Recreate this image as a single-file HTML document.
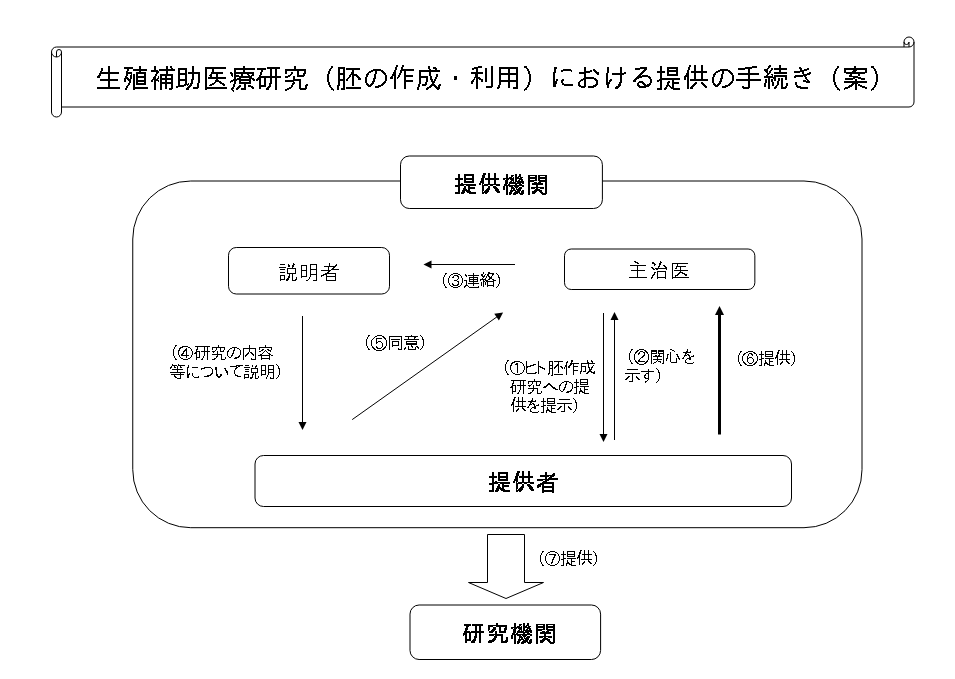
<!DOCTYPE html>
<html lang="ja">
<head>
<meta charset="utf-8">
<title>生殖補助医療研究（胚の作成・利用）における提供の手続き（案）</title>
<style>
html,body{margin:0;padding:0;background:#fff}
body{position:relative;width:955px;height:679px;overflow:hidden;font-family:"Liberation Sans",sans-serif}
svg{position:absolute;left:0;top:0;display:block}
.ln{fill:#fff;stroke:#000;stroke-width:1}
.bn{fill:none;stroke:#000;stroke-width:1}
.gl{fill:#000;shape-rendering:crispEdges}
.tx{position:absolute;margin:0;white-space:nowrap;line-height:1;color:transparent;font-family:"Liberation Sans",sans-serif;overflow:hidden}
.tx.b{font-weight:bold}
</style>
</head>
<body>
<svg width="955" height="679" viewBox="0 0 955 679">
<defs>
<path id="gt27_751f" d="M13 -22h2v6h-2zM6 -20h2v3h-2zM5 -17h2v1h-2zM5 -16h19v1h-19zM4 -15h20v1h-20zM4 -14h2v1h-2zM13 -14h2v5h-2zM3 -13h3v1h-3zM2 -12h3v2h-3zM5 -9h18v2h-18zM13 -7h2v6h-2zM2 -1h23v2h-23z"/>
<path id="gt27_6b96" d="M17 -22h2v3h-2zM2 -21h9v2h-9zM5 -19h2v2h-2zM11 -19h14v2h-14zM4 -17h2v1h-2zM17 -17h2v1h-2zM4 -16h6v2h-6zM14 -16h10v2h-10zM4 -14h2v2h-2zM9 -14h1v1h-1zM11 -14h2v13h-2zM14 -14h2v2h-2zM22 -14h2v2h-2zM8 -13h2v4h-2zM3 -12h2v1h-2zM14 -12h10v2h-10zM3 -11h3v1h-3zM2 -10h5v1h-5zM14 -10h2v2h-2zM22 -10h2v2h-2zM2 -9h2v3h-2zM5 -9h4v1h-4zM6 -8h3v1h-3zM14 -8h10v2h-10zM7 -7h2v2h-2zM14 -6h2v1h-2zM22 -6h2v1h-2zM6 -5h2v2h-2zM14 -5h10v2h-10zM5 -3h2v1h-2zM4 -2h2v2h-2zM11 -1h15v2h-15zM3 0h2v2h-2zM11 1h2v1h-2z"/>
<path id="gt27_88dc" d="M5 -22h2v4h-2zM17 -22h2v3h-2zM21 -22h2v2h-2zM22 -20h2v1h-2zM10 -19h16v2h-16zM2 -18h7v1h-7zM2 -17h8v1h-8zM17 -17h2v3h-2zM7 -16h3v1h-3zM7 -15h2v1h-2zM6 -14h2v2h-2zM11 -14h13v2h-13zM5 -12h2v1h-2zM9 -12h1v2h-1zM11 -12h2v2h-2zM16 -12h2v2h-2zM22 -12h2v2h-2zM4 -11h3v2h-3zM8 -10h2v1h-2zM11 -10h13v2h-13zM3 -9h6v1h-6zM2 -8h2v2h-2zM5 -8h5v1h-5zM11 -8h2v2h-2zM16 -8h2v2h-2zM22 -8h2v2h-2zM5 -7h2v9h-2zM9 -7h1v1h-1zM11 -6h13v2h-13zM11 -4h2v6h-2zM16 -4h2v5h-2zM22 -4h2v4h-2zM20 0h4v1h-4zM20 1h3v1h-3z"/>
<path id="gt27_52a9" d="M17 -22h2v6h-2zM3 -20h9v2h-9zM3 -18h2v3h-2zM10 -18h2v3h-2zM13 -16h12v2h-12zM3 -15h9v2h-9zM17 -14h2v5h-2zM23 -14h2v9h-2zM3 -13h2v4h-2zM10 -13h2v4h-2zM3 -9h9v2h-9zM16 -9h3v1h-3zM16 -8h2v3h-2zM3 -7h2v4h-2zM10 -7h2v3h-2zM13 -5h1v1h-1zM15 -5h3v1h-3zM22 -5h2v4h-2zM9 -4h5v1h-5zM15 -4h2v1h-2zM3 -3h8v1h-8zM12 -3h1v1h-1zM14 -3h3v1h-3zM1 -2h8v1h-8zM13 -2h3v1h-3zM1 -1h2v1h-2zM12 -1h3v1h-3zM18 -1h6v1h-6zM11 0h3v2h-3zM18 0h5v1h-5z"/>
<path id="gt27_533b" d="M3 -21h21v2h-21zM3 -19h2v18h-2zM10 -19h2v3h-2zM9 -16h12v2h-12zM8 -14h2v1h-2zM14 -14h2v3h-2zM7 -13h3v1h-3zM8 -12h2v1h-2zM6 -11h18v2h-18zM14 -9h2v1h-2zM13 -8h4v1h-4zM13 -7h6v1h-6zM12 -6h2v1h-2zM17 -6h3v1h-3zM10 -5h3v1h-3zM18 -5h4v1h-4zM8 -4h4v1h-4zM20 -4h3v1h-3zM7 -3h3v1h-3zM21 -3h2v1h-2zM3 -1h22v2h-22zM3 1h2v1h-2z"/>
<path id="gt27_7642" d="M14 -22h2v2h-2zM5 -20h21v2h-21zM5 -18h2v2h-2zM14 -18h2v2h-2zM1 -16h2v1h-2zM5 -16h20v2h-20zM1 -15h3v1h-3zM2 -14h2v2h-2zM5 -14h2v1h-2zM12 -14h2v2h-2zM18 -14h2v1h-2zM23 -14h2v1h-2zM5 -13h5v1h-5zM19 -13h2v1h-2zM22 -13h3v1h-3zM3 -12h1v1h-1zM5 -12h18v1h-18zM5 -11h2v2h-2zM10 -11h13v1h-13zM8 -10h4v1h-4zM20 -10h5v1h-5zM4 -9h18v1h-18zM23 -9h3v1h-3zM2 -8h6v1h-6zM10 -8h12v1h-12zM24 -8h2v1h-2zM1 -7h3v1h-3zM5 -7h2v3h-2zM10 -7h2v1h-2zM20 -7h2v1h-2zM1 -6h1v1h-1zM10 -6h12v2h-12zM4 -4h2v3h-2zM15 -4h2v4h-2zM10 -3h2v1h-2zM19 -3h3v1h-3zM9 -2h3v1h-3zM19 -2h5v1h-5zM3 -1h2v1h-2zM8 -1h3v1h-3zM22 -1h3v1h-3zM2 0h3v1h-3zM7 0h3v1h-3zM12 0h5v2h-5zM23 0h2v1h-2zM2 1h2v1h-2zM7 1h2v1h-2zM3 2h2v1h-2zM4 3h1v1h-1z"/>
<path id="gt27_7814" d="M12 -21h13v2h-13zM2 -20h9v2h-9zM15 -19h2v7h-2zM20 -19h2v7h-2zM6 -18h2v2h-2zM5 -16h2v3h-2zM4 -13h2v1h-2zM4 -12h22v1h-22zM3 -11h23v1h-23zM2 -10h4v1h-4zM9 -10h2v7h-2zM15 -10h2v5h-2zM20 -10h2v12h-2zM1 -9h5v1h-5zM1 -8h2v1h-2zM4 -8h2v5h-2zM14 -5h3v1h-3zM14 -4h2v2h-2zM4 -3h7v2h-7zM13 -2h3v1h-3zM4 -1h2v2h-2zM12 -1h3v1h-3zM11 0h3v2h-3z"/>
<path id="gt27_7a76" d="M12 -22h2v3h-2zM3 -19h21v2h-21zM3 -17h2v3h-2zM15 -17h2v4h-2zM22 -17h2v2h-2zM9 -16h2v2h-2zM21 -15h3v1h-3zM8 -14h2v1h-2zM21 -14h2v1h-2zM6 -13h3v1h-3zM15 -13h8v1h-8zM3 -12h5v1h-5zM11 -12h2v3h-2zM15 -12h7v1h-7zM3 -11h3v1h-3zM11 -9h8v1h-8zM3 -8h16v1h-16zM3 -7h9v1h-9zM17 -7h2v7h-2zM11 -6h2v1h-2zM10 -5h3v1h-3zM10 -4h2v1h-2zM24 -4h2v1h-2zM9 -3h2v2h-2zM23 -3h3v1h-3zM23 -2h2v2h-2zM7 -1h3v1h-3zM5 0h4v1h-4zM17 0h8v1h-8zM3 1h4v1h-4zM18 1h6v1h-6zM3 2h2v1h-2z"/>
<path id="gt27_ff08" d="M22 -22h2v2h-2zM21 -20h2v1h-2zM20 -19h2v2h-2zM19 -17h2v3h-2zM18 -14h2v8h-2zM19 -6h2v3h-2zM20 -3h2v2h-2zM21 -1h2v1h-2zM22 0h2v1h-2zM22 1h3v1h-3zM24 2h1v1h-1z"/>
<path id="gt27_80da" d="M3 -21h7v2h-7zM11 -20h14v2h-14zM3 -19h2v4h-2zM8 -19h2v4h-2zM17 -18h2v2h-2zM16 -16h3v2h-3zM3 -15h7v2h-7zM15 -14h7v1h-7zM3 -13h2v4h-2zM8 -13h2v4h-2zM14 -13h2v2h-2zM17 -13h6v1h-6zM17 -12h2v10h-2zM21 -12h3v1h-3zM13 -11h2v1h-2zM22 -11h3v1h-3zM12 -10h2v1h-2zM23 -10h3v2h-3zM3 -9h7v2h-7zM11 -9h2v2h-2zM3 -7h2v4h-2zM8 -7h2v7h-2zM2 -3h3v1h-3zM2 -2h2v4h-2zM11 -1h15v2h-15zM6 0h4v2h-4z"/>
<path id="gt27_306e" d="M11 -19h8v1h-8zM9 -18h12v1h-12zM7 -17h4v1h-4zM13 -17h2v3h-2zM19 -17h3v1h-3zM6 -16h3v1h-3zM20 -16h3v1h-3zM5 -15h2v1h-2zM21 -15h3v1h-3zM4 -14h3v1h-3zM12 -14h2v4h-2zM22 -14h2v1h-2zM4 -13h2v2h-2zM23 -13h2v6h-2zM3 -11h2v6h-2zM11 -10h3v1h-3zM11 -9h2v2h-2zM10 -7h3v1h-3zM22 -7h2v1h-2zM10 -6h2v1h-2zM21 -6h3v1h-3zM4 -5h2v1h-2zM9 -5h3v1h-3zM20 -5h3v1h-3zM4 -4h3v1h-3zM8 -4h3v1h-3zM19 -4h3v1h-3zM5 -3h5v1h-5zM16 -3h5v1h-5zM6 -2h3v1h-3zM13 -2h6v1h-6zM13 -1h4v1h-4z"/>
<path id="gt27_4f5c" d="M7 -23h2v2h-2zM13 -23h2v2h-2zM6 -21h2v3h-2zM12 -21h2v2h-2zM12 -19h13v1h-13zM5 -18h2v2h-2zM11 -18h14v1h-14zM11 -17h2v2h-2zM15 -17h2v4h-2zM4 -16h3v2h-3zM10 -15h2v2h-2zM3 -14h4v2h-4zM9 -13h2v2h-2zM15 -13h9v2h-9zM2 -12h2v1h-2zM5 -12h2v13h-2zM1 -11h3v2h-3zM8 -11h2v1h-2zM15 -11h2v3h-2zM8 -10h1v1h-1zM15 -8h9v2h-9zM15 -6h2v7h-2z"/>
<path id="gt27_6210" d="M13 -22h2v3h-2zM18 -21h3v1h-3zM18 -20h4v1h-4zM14 -19h2v1h-2zM20 -19h2v1h-2zM4 -18h21v2h-21zM4 -16h2v4h-2zM14 -16h2v4h-2zM21 -14h2v3h-2zM4 -12h9v2h-9zM15 -12h2v3h-2zM20 -11h2v2h-2zM4 -10h2v6h-2zM11 -10h2v4h-2zM15 -9h3v1h-3zM19 -9h2v2h-2zM16 -8h2v1h-2zM16 -7h4v1h-4zM10 -6h2v2h-2zM17 -6h3v1h-3zM17 -5h2v1h-2zM3 -4h2v3h-2zM7 -4h5v1h-5zM16 -4h4v1h-4zM24 -4h2v1h-2zM7 -3h4v1h-4zM15 -3h6v1h-6zM23 -3h3v1h-3zM14 -2h3v1h-3zM19 -2h3v1h-3zM23 -2h2v1h-2zM2 -1h2v3h-2zM12 -1h4v1h-4zM20 -1h5v1h-5zM11 0h3v1h-3zM21 0h4v1h-4zM11 1h2v1h-2zM22 1h2v1h-2z"/>
<path id="gt27_30fb" d="M12 -12h3v4h-3z"/>
<path id="gt27_5229" d="M9 -22h4v1h-4zM22 -22h2v20h-2zM5 -21h8v1h-8zM3 -20h6v1h-6zM16 -20h2v14h-2zM3 -19h2v1h-2zM7 -19h2v3h-2zM2 -16h12v2h-12zM6 -14h3v3h-3zM5 -11h6v1h-6zM5 -10h1v1h-1zM7 -10h5v1h-5zM4 -9h2v1h-2zM7 -9h2v10h-2zM10 -9h4v1h-4zM3 -8h2v1h-2zM12 -8h2v2h-2zM2 -7h3v1h-3zM2 -6h2v2h-2zM17 -2h7v1h-7zM17 -1h6v1h-6z"/>
<path id="gt27_7528" d="M4 -21h19v2h-19zM4 -19h2v4h-2zM13 -19h2v4h-2zM21 -19h2v4h-2zM4 -15h19v2h-19zM4 -13h2v5h-2zM13 -13h2v5h-2zM21 -13h2v5h-2zM4 -8h19v2h-19zM4 -6h2v3h-2zM13 -6h2v6h-2zM21 -6h2v5h-2zM3 -3h2v2h-2zM2 -1h3v1h-3zM18 -1h5v2h-5zM2 0h2v1h-2z"/>
<path id="gt27_ff09" d="M2 -22h3v2h-3zM4 -20h2v1h-2zM5 -19h2v2h-2zM6 -17h2v3h-2zM7 -14h2v8h-2zM6 -6h2v3h-2zM5 -3h2v2h-2zM4 -1h2v1h-2zM3 0h2v1h-2zM2 1h3v1h-3zM2 2h1v1h-1z"/>
<path id="gt27_306b" d="M5 -21h3v2h-3zM5 -19h2v3h-2zM14 -19h8v1h-8zM12 -18h11v1h-11zM12 -17h2v1h-2zM22 -17h1v1h-1zM4 -16h3v1h-3zM4 -15h2v8h-2zM7 -9h2v2h-2zM13 -9h2v1h-2zM12 -8h3v1h-3zM4 -7h4v3h-4zM12 -7h2v2h-2zM13 -5h2v1h-2zM4 -4h3v3h-3zM13 -4h11v1h-11zM15 -3h9v1h-9z"/>
<path id="gt27_304a" d="M9 -21h2v4h-2zM18 -19h2v1h-2zM15 -18h2v1h-2zM18 -18h3v1h-3zM9 -17h8v1h-8zM19 -17h3v1h-3zM4 -16h11v1h-11zM20 -16h4v1h-4zM4 -15h7v1h-7zM21 -15h3v1h-3zM9 -14h2v3h-2zM22 -14h2v1h-2zM9 -11h10v1h-10zM8 -10h13v1h-13zM6 -9h5v1h-5zM19 -9h3v1h-3zM5 -8h3v1h-3zM9 -8h2v6h-2zM20 -8h3v1h-3zM4 -7h2v1h-2zM21 -7h2v3h-2zM3 -6h2v3h-2zM20 -4h3v1h-3zM3 -3h3v1h-3zM18 -3h4v1h-4zM4 -2h7v1h-7zM13 -2h8v1h-8zM6 -1h4v1h-4zM13 -1h6v1h-6z"/>
<path id="gt27_3051" d="M5 -21h2v6h-2zM18 -21h2v6h-2zM22 -16h2v1h-2zM4 -15h2v9h-2zM10 -15h14v1h-14zM10 -14h12v1h-12zM18 -13h2v7h-2zM8 -9h2v1h-2zM7 -8h3v1h-3zM7 -7h2v1h-2zM4 -6h4v2h-4zM17 -6h3v1h-3zM17 -5h2v1h-2zM4 -4h3v1h-3zM16 -4h3v2h-3zM5 -3h2v3h-2zM14 -2h4v1h-4zM13 -1h4v1h-4zM13 0h3v1h-3z"/>
<path id="gt27_308b" d="M11 -21h7v1h-7zM6 -20h12v1h-12zM6 -19h5v1h-5zM15 -19h3v1h-3zM14 -18h3v1h-3zM13 -17h3v1h-3zM12 -16h3v1h-3zM11 -15h3v1h-3zM10 -14h3v1h-3zM9 -13h3v1h-3zM13 -13h6v1h-6zM8 -12h13v1h-13zM7 -11h6v1h-6zM19 -11h3v1h-3zM6 -10h4v1h-4zM20 -10h2v1h-2zM5 -9h3v1h-3zM21 -9h2v4h-2zM4 -8h3v2h-3zM10 -7h4v1h-4zM9 -6h6v1h-6zM8 -5h2v2h-2zM13 -5h3v1h-3zM20 -5h2v1h-2zM14 -4h3v1h-3zM18 -4h4v1h-4zM8 -3h3v1h-3zM15 -3h6v1h-6zM9 -2h11v1h-11zM10 -1h7v1h-7z"/>
<path id="gt27_63d0" d="M5 -22h2v5h-2zM12 -21h11v2h-11zM12 -19h2v1h-2zM21 -19h2v1h-2zM12 -18h11v2h-11zM2 -17h8v2h-8zM12 -16h2v2h-2zM21 -16h2v2h-2zM5 -15h2v5h-2zM12 -14h11v2h-11zM5 -10h20v1h-20zM4 -9h21v1h-21zM2 -8h5v1h-5zM17 -8h2v2h-2zM2 -7h2v1h-2zM5 -7h2v7h-2zM13 -7h2v1h-2zM12 -6h3v1h-3zM17 -6h7v2h-7zM12 -5h2v2h-2zM17 -4h2v3h-2zM11 -3h4v1h-4zM11 -2h2v1h-2zM14 -2h2v1h-2zM10 -1h2v1h-2zM15 -1h4v1h-4zM2 0h5v2h-5zM9 0h3v1h-3zM16 0h9v1h-9zM9 1h2v1h-2zM18 1h7v1h-7z"/>
<path id="gt27_4f9b" d="M7 -23h2v2h-2zM12 -23h2v6h-2zM19 -23h2v6h-2zM6 -21h2v3h-2zM5 -18h2v3h-2zM9 -17h16v2h-16zM4 -15h3v2h-3zM12 -15h2v6h-2zM19 -15h2v6h-2zM3 -13h4v1h-4zM2 -12h5v1h-5zM2 -11h2v3h-2zM5 -11h2v12h-2zM8 -9h18v2h-18zM13 -6h2v1h-2zM19 -6h2v1h-2zM12 -5h3v1h-3zM19 -5h3v1h-3zM11 -4h3v1h-3zM20 -4h3v1h-3zM10 -3h3v1h-3zM21 -3h3v1h-3zM9 -2h3v1h-3zM22 -2h3v1h-3zM8 -1h3v2h-3zM23 -1h2v1h-2z"/>
<path id="gt27_624b" d="M17 -22h5v1h-5zM10 -21h12v1h-12zM3 -20h14v1h-14zM3 -19h7v1h-7zM13 -19h2v4h-2zM3 -15h21v2h-21zM13 -13h2v4h-2zM1 -9h25v2h-25zM13 -7h2v6h-2zM7 -2h2v1h-2zM7 -1h8v1h-8zM8 0h6v1h-6z"/>
<path id="gt27_7d9a" d="M7 -23h2v1h-2zM17 -23h2v3h-2zM6 -22h3v1h-3zM6 -21h2v1h-2zM5 -20h2v1h-2zM9 -20h2v2h-2zM12 -20h13v2h-13zM2 -19h4v2h-4zM8 -18h2v1h-2zM17 -18h2v2h-2zM3 -17h3v1h-3zM7 -17h2v2h-2zM4 -16h2v1h-2zM12 -16h13v2h-13zM5 -15h3v1h-3zM5 -14h2v1h-2zM9 -14h2v1h-2zM4 -13h2v1h-2zM10 -13h1v1h-1zM12 -13h13v2h-13zM2 -12h9v1h-9zM2 -11h12v1h-12zM23 -11h2v3h-2zM6 -10h2v11h-2zM11 -10h3v1h-3zM16 -10h2v3h-2zM19 -10h2v9h-2zM3 -9h2v4h-2zM9 -9h2v3h-2zM12 -9h2v2h-2zM15 -7h2v4h-2zM10 -6h2v4h-2zM2 -5h2v4h-2zM24 -5h2v3h-2zM14 -3h2v1h-2zM13 -2h2v1h-2zM23 -2h2v1h-2zM12 -1h3v1h-3zM19 -1h6v1h-6zM12 0h2v1h-2zM19 0h5v1h-5z"/>
<path id="gt27_304d" d="M10 -21h2v1h-2zM10 -20h3v1h-3zM18 -20h2v1h-2zM11 -19h2v1h-2zM15 -19h5v1h-5zM11 -18h7v1h-7zM5 -17h10v1h-10zM5 -16h6v1h-6zM13 -16h2v2h-2zM20 -16h2v1h-2zM18 -15h4v1h-4zM14 -14h7v1h-7zM6 -13h12v1h-12zM5 -12h9v1h-9zM15 -12h2v1h-2zM5 -11h2v1h-2zM16 -11h2v2h-2zM17 -9h2v1h-2zM14 -8h3v1h-3zM18 -8h2v1h-2zM14 -7h7v1h-7zM6 -6h2v3h-2zM17 -6h4v1h-4zM7 -3h2v1h-2zM7 -2h5v1h-5zM8 -1h11v1h-11zM11 0h8v1h-8z"/>
<path id="gt27_6848" d="M12 -22h2v2h-2zM2 -20h23v2h-23zM2 -18h2v2h-2zM11 -18h4v1h-4zM23 -18h2v2h-2zM10 -17h4v1h-4zM2 -16h23v1h-23zM4 -15h19v1h-19zM8 -14h2v1h-2zM16 -14h2v2h-2zM7 -13h3v1h-3zM7 -12h9v1h-9zM11 -11h8v1h-8zM3 -10h10v1h-10zM16 -10h7v1h-7zM3 -9h8v1h-8zM13 -9h2v2h-2zM19 -9h4v1h-4zM2 -7h23v2h-23zM10 -5h6v1h-6zM9 -4h3v1h-3zM13 -4h2v6h-2zM16 -4h2v1h-2zM7 -3h4v1h-4zM16 -3h4v1h-4zM6 -2h4v1h-4zM18 -2h5v1h-5zM3 -1h5v1h-5zM20 -1h5v1h-5zM2 0h4v1h-4zM23 0h2v1h-2zM2 1h1v1h-1z"/>
<path id="pb22_63d0" d="M4 -18h2v4h-2zM10 -18h10v2h-10zM10 -16h2v2h-2zM18 -16h2v2h-2zM1 -14h8v2h-8zM10 -14h10v2h-10zM4 -12h2v4h-2zM10 -12h2v1h-2zM18 -12h2v1h-2zM10 -11h10v2h-10zM7 -9h2v1h-2zM4 -8h18v1h-18zM1 -7h9v1h-9zM12 -7h10v1h-10zM1 -6h5v1h-5zM10 -6h2v2h-2zM14 -6h2v1h-2zM4 -5h2v5h-2zM14 -5h7v2h-7zM9 -4h3v1h-3zM9 -3h4v1h-4zM14 -3h2v1h-2zM8 -2h8v1h-8zM8 -1h3v1h-3zM12 -1h5v1h-5zM1 0h5v2h-5zM7 0h4v1h-4zM13 0h9v1h-9zM7 1h3v1h-3zM15 1h7v1h-7z"/>
<path id="pb22_4f9b" d="M5 -19h3v2h-3zM10 -19h2v5h-2zM16 -19h2v5h-2zM4 -17h3v3h-3zM3 -14h3v3h-3zM7 -14h14v2h-14zM10 -12h2v4h-2zM16 -12h2v4h-2zM2 -11h4v2h-4zM1 -9h2v2h-2zM4 -9h2v1h-2zM4 -8h1v1h-1zM6 -8h16v1h-16zM4 -7h6v1h-6zM12 -7h3v1h-3zM18 -7h4v1h-4zM4 -6h2v5h-2zM10 -6h2v2h-2zM15 -6h3v1h-3zM15 -5h4v1h-4zM9 -4h3v1h-3zM16 -4h4v1h-4zM8 -3h4v1h-4zM17 -3h4v2h-4zM7 -2h4v1h-4zM4 -1h1v1h-1zM6 -1h5v1h-5zM18 -1h4v1h-4zM4 0h6v1h-6zM19 0h3v1h-3zM4 1h2v1h-2zM7 1h2v1h-2z"/>
<path id="pb22_6a5f" d="M4 -18h2v4h-2zM13 -18h2v3h-2zM17 -18h2v2h-2zM9 -17h3v1h-3zM9 -16h2v1h-2zM16 -16h3v1h-3zM7 -15h3v1h-3zM11 -15h1v1h-1zM13 -15h4v1h-4zM18 -15h3v1h-3zM1 -14h11v1h-11zM13 -14h7v1h-7zM1 -13h2v1h-2zM4 -13h3v1h-3zM8 -13h4v1h-4zM13 -13h2v2h-2zM17 -13h4v1h-4zM3 -12h3v4h-3zM9 -12h3v1h-3zM16 -12h2v1h-2zM19 -12h2v1h-2zM8 -11h2v1h-2zM11 -11h1v1h-1zM13 -11h9v1h-9zM7 -10h7v1h-7zM15 -10h7v1h-7zM7 -9h12v1h-12zM20 -9h2v1h-2zM2 -8h3v1h-3zM6 -8h2v1h-2zM13 -8h2v1h-2zM17 -8h3v1h-3zM2 -7h20v1h-20zM1 -6h2v4h-2zM4 -6h2v9h-2zM7 -6h4v1h-4zM12 -6h5v1h-5zM20 -6h2v1h-2zM9 -5h3v1h-3zM13 -5h3v1h-3zM17 -5h3v1h-3zM9 -4h4v1h-4zM14 -4h1v1h-1zM16 -4h4v1h-4zM9 -3h1v1h-1zM11 -3h2v1h-2zM14 -3h5v1h-5zM8 -2h6v1h-6zM15 -2h4v1h-4zM20 -2h2v1h-2zM8 -1h3v1h-3zM13 -1h5v1h-5zM19 -1h3v2h-3zM7 0h3v2h-3zM12 0h6v1h-6zM11 1h5v1h-5zM17 1h5v1h-5zM7 2h2v1h-2zM11 2h3v1h-3zM18 2h3v1h-3z"/>
<path id="pb22_95a2" d="M2 -17h9v1h-9zM12 -17h9v1h-9zM2 -16h2v1h-2zM9 -16h2v1h-2zM12 -16h2v1h-2zM19 -16h2v1h-2zM2 -15h9v2h-9zM12 -15h9v2h-9zM2 -13h2v1h-2zM9 -13h2v1h-2zM12 -13h2v1h-2zM19 -13h2v1h-2zM2 -12h9v1h-9zM12 -12h9v1h-9zM2 -11h6v1h-6zM13 -11h8v1h-8zM2 -10h2v13h-2zM8 -10h3v1h-3zM12 -10h3v1h-3zM19 -10h2v11h-2zM6 -9h11v2h-11zM10 -7h2v2h-2zM5 -5h13v1h-13zM5 -4h4v1h-4zM10 -4h2v1h-2zM14 -4h4v1h-4zM9 -3h5v1h-5zM8 -2h8v1h-8zM6 -1h5v1h-5zM13 -1h3v1h-3zM6 0h4v1h-4zM14 0h3v1h-3zM6 1h3v1h-3zM15 1h6v1h-6zM16 2h4v1h-4z"/>
<path id="pb22_8005" d="M9 -18h2v3h-2zM17 -17h2v1h-2zM16 -16h3v1h-3zM4 -15h15v1h-15zM4 -14h9v1h-9zM14 -14h4v1h-4zM9 -13h2v2h-2zM13 -13h3v1h-3zM12 -12h10v1h-10zM1 -11h21v1h-21zM1 -10h6v1h-6zM9 -10h4v1h-4zM7 -9h4v1h-4zM6 -8h12v1h-12zM4 -7h14v1h-14zM2 -6h6v1h-6zM16 -6h2v2h-2zM1 -5h4v2h-4zM6 -5h2v1h-2zM6 -4h12v2h-12zM1 -3h2v1h-2zM6 -2h2v2h-2zM16 -2h2v2h-2zM6 0h12v2h-12zM6 2h2v1h-2zM16 2h2v1h-2z"/>
<path id="pb22_7814" d="M2 -17h7v2h-7zM10 -17h11v2h-11zM4 -15h3v1h-3zM13 -15h2v5h-2zM17 -15h2v5h-2zM4 -14h2v1h-2zM3 -13h3v2h-3zM3 -11h2v1h-2zM2 -10h6v1h-6zM9 -10h13v1h-13zM2 -9h20v1h-20zM1 -8h4v2h-4zM7 -8h2v6h-2zM13 -8h2v3h-2zM17 -8h2v10h-2zM1 -6h1v1h-1zM3 -6h2v4h-2zM12 -5h3v2h-3zM12 -3h2v1h-2zM3 -2h6v2h-6zM11 -2h3v1h-3zM10 -1h4v1h-4zM3 0h2v2h-2zM9 0h4v2h-4z"/>
<path id="pb22_7a76" d="M10 -18h2v2h-2zM2 -16h19v1h-19zM2 -15h5v1h-5zM10 -15h11v1h-11zM2 -14h2v3h-2zM7 -14h3v2h-3zM13 -14h2v4h-2zM19 -14h2v1h-2zM18 -13h3v2h-3zM6 -12h4v1h-4zM2 -11h1v1h-1zM5 -11h4v1h-4zM18 -11h2v1h-2zM3 -10h5v1h-5zM9 -10h2v3h-2zM13 -10h7v2h-7zM3 -9h4v1h-4zM3 -7h14v1h-14zM3 -6h5v1h-5zM9 -6h8v1h-8zM8 -5h3v2h-3zM15 -5h2v5h-2zM20 -4h2v3h-2zM7 -3h3v1h-3zM6 -2h4v1h-4zM3 -1h6v1h-6zM19 -1h3v1h-3zM2 0h6v1h-6zM15 0h7v1h-7zM2 1h4v1h-4zM15 1h6v1h-6z"/>
<path id="pp20_8aac" d="M15 -17h1v1h-1zM2 -16h5v1h-5zM10 -16h1v1h-1zM15 -16h2v1h-2zM10 -15h2v2h-2zM14 -15h2v2h-2zM1 -13h7v1h-7zM14 -13h1v1h-1zM9 -12h9v1h-9zM2 -11h5v1h-5zM9 -11h1v4h-1zM17 -11h1v4h-1zM2 -8h5v1h-5zM9 -7h9v1h-9zM11 -6h1v2h-1zM14 -6h1v6h-1zM2 -5h5v1h-5zM2 -4h1v3h-1zM6 -4h1v3h-1zM10 -4h2v2h-2zM18 -3h1v2h-1zM9 -2h2v1h-2zM2 -1h5v1h-5zM8 -1h3v1h-3zM17 -1h2v1h-2zM2 0h1v1h-1zM8 0h2v1h-2zM14 0h4v1h-4z"/>
<path id="pp20_660e" d="M11 -16h7v1h-7zM2 -15h6v1h-6zM11 -15h1v4h-1zM17 -15h1v4h-1zM2 -14h1v4h-1zM7 -14h1v4h-1zM11 -11h7v1h-7zM2 -10h6v1h-6zM11 -10h1v4h-1zM17 -10h1v4h-1zM2 -9h1v5h-1zM7 -9h1v5h-1zM11 -6h7v1h-7zM11 -5h1v2h-1zM17 -5h1v5h-1zM2 -4h6v1h-6zM2 -3h1v1h-1zM10 -3h1v2h-1zM9 -1h1v1h-1zM7 0h2v1h-2zM14 0h4v1h-4z"/>
<path id="pp20_8005" d="M9 -17h1v3h-1zM16 -16h1v1h-1zM15 -15h2v1h-2zM4 -14h12v1h-12zM8 -13h1v3h-1zM13 -13h2v1h-2zM12 -12h2v1h-2zM11 -11h8v1h-8zM1 -10h10v1h-10zM8 -9h2v1h-2zM7 -8h2v1h-2zM5 -7h11v1h-11zM3 -6h4v1h-4zM15 -6h1v2h-1zM1 -5h3v1h-3zM6 -5h1v1h-1zM1 -4h1v1h-1zM6 -4h10v1h-10zM6 -3h1v3h-1zM15 -3h1v3h-1zM6 0h10v1h-10z"/>
<path id="pp20_4e3b" d="M6 -17h2v1h-2zM7 -16h3v1h-3zM9 -15h2v1h-2zM2 -13h16v1h-16zM9 -12h1v4h-1zM3 -8h14v1h-14zM9 -7h1v6h-1zM1 -1h18v1h-18z"/>
<path id="pp20_6cbb" d="M11 -17h1v1h-1zM3 -16h2v1h-2zM11 -16h2v1h-2zM3 -15h3v1h-3zM10 -15h2v2h-2zM5 -14h2v1h-2zM5 -13h1v1h-1zM10 -13h1v1h-1zM14 -13h2v1h-2zM9 -12h2v1h-2zM15 -12h2v1h-2zM2 -11h2v1h-2zM9 -11h1v1h-1zM16 -11h2v1h-2zM3 -10h2v1h-2zM6 -10h12v1h-12zM4 -9h2v1h-2zM7 -9h2v1h-2zM17 -9h1v1h-1zM8 -7h9v1h-9zM5 -6h2v1h-2zM8 -6h1v5h-1zM16 -6h1v5h-1zM5 -5h1v1h-1zM4 -4h2v1h-2zM3 -3h2v1h-2zM3 -2h1v1h-1zM2 -1h2v1h-2zM8 -1h9v1h-9zM2 0h1v1h-1zM8 0h1v1h-1zM16 0h1v1h-1z"/>
<path id="pp20_533b" d="M2 -15h16v1h-16zM2 -14h1v13h-1zM7 -14h1v2h-1zM6 -12h10v1h-10zM6 -11h1v1h-1zM10 -11h1v3h-1zM5 -10h2v1h-2zM4 -8h14v1h-14zM10 -7h1v1h-1zM9 -6h4v1h-4zM8 -5h2v1h-2zM12 -5h3v1h-3zM7 -4h2v1h-2zM14 -4h3v1h-3zM5 -3h3v1h-3zM15 -3h2v1h-2zM5 -2h1v1h-1zM2 -1h17v1h-17zM2 0h1v1h-1z"/>
<path id="pp17_ff08" d="M6 -14h2v1h-2zM6 -13h1v1h-1zM5 -12h1v2h-1zM4 -10h1v7h-1zM5 -3h1v2h-1zM6 -1h1v1h-1zM6 0h2v1h-2z"/>
<path id="pp16_2462" d="M6 -14h5v1h-5zM4 -13h2v1h-2zM11 -13h2v1h-2zM3 -12h1v1h-1zM7 -12h4v1h-4zM13 -12h1v1h-1zM2 -11h1v2h-1zM6 -11h1v1h-1zM10 -11h2v1h-2zM14 -11h1v2h-1zM5 -10h2v1h-2zM11 -10h1v2h-1zM1 -9h1v5h-1zM15 -9h1v5h-1zM10 -8h1v1h-1zM7 -7h3v1h-3zM10 -6h2v1h-2zM11 -5h1v2h-1zM2 -4h1v2h-1zM5 -4h1v1h-1zM14 -4h1v2h-1zM5 -3h2v1h-2zM10 -3h2v1h-2zM3 -2h1v1h-1zM6 -2h5v1h-5zM13 -2h1v1h-1zM4 -1h2v1h-2zM11 -1h2v1h-2zM6 0h5v1h-5z"/>
<path id="pp17_9023" d="M10 -14h1v2h-1zM2 -13h1v1h-1zM2 -12h2v1h-2zM5 -12h11v1h-11zM3 -11h1v1h-1zM10 -11h1v1h-1zM6 -10h9v1h-9zM6 -9h1v1h-1zM10 -9h1v1h-1zM14 -9h1v1h-1zM6 -8h9v1h-9zM1 -7h3v1h-3zM6 -7h1v1h-1zM10 -7h1v1h-1zM14 -7h1v1h-1zM3 -6h1v4h-1zM6 -6h9v1h-9zM10 -5h1v1h-1zM5 -4h11v1h-11zM10 -3h1v2h-1zM2 -2h3v1h-3zM1 -1h2v1h-2zM5 -1h1v1h-1zM15 -1h1v1h-1zM1 0h1v1h-1zM6 0h10v1h-10z"/>
<path id="pp17_7d61" d="M4 -15h1v2h-1zM9 -15h2v1h-2zM9 -14h6v1h-6zM2 -13h2v2h-2zM6 -13h1v1h-1zM8 -13h2v2h-2zM13 -13h2v1h-2zM5 -12h1v1h-1zM13 -12h1v1h-1zM3 -11h3v1h-3zM7 -11h1v2h-1zM9 -11h2v1h-2zM12 -11h1v1h-1zM4 -10h1v1h-1zM10 -10h3v2h-3zM3 -9h1v1h-1zM6 -9h1v1h-1zM1 -8h6v1h-6zM9 -8h2v1h-2zM13 -8h2v1h-2zM1 -7h1v1h-1zM4 -7h1v1h-1zM6 -7h3v1h-3zM14 -7h3v1h-3zM4 -6h2v1h-2zM7 -6h8v1h-8zM2 -5h1v4h-1zM4 -5h1v5h-1zM6 -5h1v3h-1zM8 -5h1v3h-1zM14 -5h1v3h-1zM8 -2h7v1h-7zM8 -1h1v1h-1zM14 -1h1v1h-1z"/>
<path id="pp17_ff09" d="M2 -14h1v1h-1zM3 -13h1v1h-1zM4 -12h1v2h-1zM4 -10h2v1h-2zM5 -9h1v6h-1zM4 -3h1v2h-1zM3 -1h1v1h-1zM2 0h1v1h-1z"/>
<path id="pp16_2464" d="M6 -14h5v1h-5zM4 -13h2v1h-2zM11 -13h2v1h-2zM3 -12h1v1h-1zM12 -12h2v1h-2zM2 -11h1v1h-1zM5 -11h6v1h-6zM13 -11h2v1h-2zM1 -10h1v1h-1zM5 -10h1v3h-1zM14 -10h1v1h-1zM0 -9h1v6h-1zM15 -9h1v6h-1zM7 -8h3v1h-3zM5 -7h2v1h-2zM10 -7h1v1h-1zM5 -6h1v1h-1zM11 -6h1v4h-1zM1 -3h1v1h-1zM5 -3h1v1h-1zM14 -3h1v1h-1zM1 -2h2v1h-2zM5 -2h2v1h-2zM10 -2h1v1h-1zM13 -2h2v1h-2zM2 -1h2v1h-2zM6 -1h4v1h-4zM12 -1h2v1h-2zM3 0h2v1h-2zM11 0h2v1h-2zM5 1h6v1h-6z"/>
<path id="pp17_540c" d="M2 -13h13v1h-13zM2 -12h1v13h-1zM14 -12h1v12h-1zM4 -10h9v1h-9zM5 -8h7v1h-7zM5 -7h1v3h-1zM11 -7h1v3h-1zM5 -4h7v1h-7zM5 -3h1v1h-1zM11 -1h1v1h-1zM11 0h4v1h-4z"/>
<path id="pp17_610f" d="M8 -14h1v1h-1zM2 -13h13v1h-13zM5 -12h1v2h-1zM11 -12h2v1h-2zM11 -11h1v1h-1zM1 -10h15v1h-15zM3 -8h11v1h-11zM3 -7h1v1h-1zM13 -7h1v1h-1zM3 -6h11v2h-11zM8 -4h1v1h-1zM5 -3h1v3h-1zM8 -3h2v1h-2zM13 -3h2v1h-2zM2 -2h1v1h-1zM9 -2h1v1h-1zM12 -2h1v2h-1zM14 -2h2v1h-2zM1 -1h2v1h-2zM15 -1h1v1h-1zM1 0h1v1h-1zM5 0h8v1h-8z"/>
<path id="pp16_2463" d="M5 -13h6v1h-6zM3 -12h3v1h-3zM11 -12h2v1h-2zM2 -11h2v1h-2zM9 -11h1v1h-1zM13 -11h1v1h-1zM2 -10h1v1h-1zM8 -10h2v1h-2zM14 -10h1v2h-1zM1 -9h2v1h-2zM7 -9h3v1h-3zM1 -8h1v4h-1zM6 -8h2v1h-2zM9 -8h1v4h-1zM15 -8h1v4h-1zM6 -7h1v1h-1zM5 -6h2v1h-2zM4 -5h2v1h-2zM2 -4h1v2h-1zM4 -4h8v1h-8zM14 -4h1v2h-1zM9 -3h1v2h-1zM3 -2h1v1h-1zM13 -2h1v1h-1zM4 -1h2v1h-2zM11 -1h2v1h-2zM6 0h5v1h-5z"/>
<path id="pp17_7814" d="M1 -13h15v1h-15zM3 -12h1v2h-1zM10 -12h1v4h-1zM13 -12h1v4h-1zM2 -10h2v1h-2zM2 -9h1v1h-1zM2 -8h4v1h-4zM7 -8h9v1h-9zM1 -7h2v1h-2zM5 -7h1v5h-1zM10 -7h1v4h-1zM13 -7h1v8h-1zM0 -6h3v1h-3zM2 -5h1v3h-1zM9 -3h1v2h-1zM2 -2h4v1h-4zM2 -1h1v2h-1zM8 -1h1v1h-1zM7 0h2v1h-2z"/>
<path id="pp17_7a76" d="M8 -14h1v2h-1zM2 -12h13v1h-13zM2 -11h1v2h-1zM6 -11h1v2h-1zM10 -11h1v3h-1zM14 -11h1v2h-1zM5 -9h1v1h-1zM13 -9h1v1h-1zM2 -8h3v1h-3zM7 -8h1v3h-1zM10 -8h4v1h-4zM3 -7h1v1h-1zM2 -5h10v1h-10zM7 -4h1v1h-1zM11 -4h1v4h-1zM6 -3h2v1h-2zM6 -2h1v1h-1zM15 -2h1v2h-1zM4 -1h2v1h-2zM2 0h3v1h-3zM11 0h4v1h-4z"/>
<path id="pp17_306e" d="M6 -12h5v1h-5zM4 -11h2v1h-2zM8 -11h1v2h-1zM11 -11h2v1h-2zM3 -10h1v1h-1zM13 -10h1v1h-1zM2 -9h1v1h-1zM7 -9h2v1h-2zM14 -9h1v5h-1zM1 -8h2v1h-2zM7 -8h1v2h-1zM1 -7h1v4h-1zM6 -6h2v1h-2zM6 -5h1v1h-1zM5 -4h2v1h-2zM13 -4h1v1h-1zM2 -3h1v1h-1zM5 -3h1v1h-1zM12 -3h2v1h-2zM3 -2h2v1h-2zM9 -2h4v1h-4zM8 -1h3v1h-3z"/>
<path id="pp17_5185" d="M8 -14h1v3h-1zM2 -11h13v1h-13zM2 -10h1v11h-1zM8 -10h1v3h-1zM14 -10h1v10h-1zM7 -7h1v1h-1zM9 -7h2v1h-2zM6 -6h2v1h-2zM10 -6h2v1h-2zM5 -5h2v1h-2zM11 -5h2v1h-2zM4 -4h2v1h-2zM12 -4h1v1h-1zM4 -3h1v1h-1zM10 -1h1v1h-1zM10 0h5v1h-5z"/>
<path id="pp17_5bb9" d="M8 -14h1v2h-1zM2 -12h13v1h-13zM2 -11h1v2h-1zM14 -11h1v2h-1zM5 -10h2v1h-2zM10 -10h2v1h-2zM4 -9h2v1h-2zM8 -9h1v1h-1zM11 -9h3v1h-3zM2 -8h2v1h-2zM7 -8h1v1h-1zM9 -8h1v1h-1zM13 -8h1v1h-1zM6 -7h1v1h-1zM10 -7h1v1h-1zM5 -6h1v1h-1zM11 -6h2v1h-2zM3 -5h2v1h-2zM12 -5h2v1h-2zM1 -4h12v1h-12zM14 -4h2v1h-2zM4 -3h1v2h-1zM12 -3h1v2h-1zM4 -1h9v1h-9zM4 0h1v1h-1zM12 0h1v1h-1z"/>
<path id="pp17_7b49" d="M3 -14h1v1h-1zM9 -14h1v1h-1zM3 -13h5v1h-5zM9 -13h7v1h-7zM2 -12h1v1h-1zM5 -12h1v1h-1zM8 -12h1v3h-1zM11 -12h1v1h-1zM1 -11h2v1h-2zM5 -11h2v1h-2zM11 -11h2v1h-2zM1 -10h1v1h-1zM3 -9h11v1h-11zM8 -8h1v2h-1zM1 -6h15v1h-15zM11 -5h1v1h-1zM2 -4h13v1h-13zM5 -3h1v1h-1zM11 -3h1v3h-1zM5 -2h2v1h-2zM6 -1h2v1h-2zM8 0h4v1h-4z"/>
<path id="pp17_306b" d="M3 -13h1v2h-1zM2 -11h2v1h-2zM7 -11h6v1h-6zM2 -10h1v6h-1zM4 -5h1v1h-1zM7 -5h1v3h-1zM2 -4h3v1h-3zM2 -3h2v3h-2zM8 -2h1v1h-1zM13 -2h1v1h-1zM9 -1h5v1h-5z"/>
<path id="pp17_3064" d="M5 -11h7v1h-7zM2 -10h4v1h-4zM12 -10h1v1h-1zM2 -9h1v1h-1zM13 -9h1v4h-1zM12 -5h2v1h-2zM11 -4h2v1h-2zM8 -3h4v1h-4zM5 -2h5v1h-5z"/>
<path id="pp17_3044" d="M1 -11h2v3h-2zM10 -10h2v1h-2zM11 -9h1v1h-1zM2 -8h1v4h-1zM11 -8h2v1h-2zM12 -7h2v2h-2zM13 -5h1v2h-1zM2 -4h2v2h-2zM6 -4h2v2h-2zM3 -2h4v1h-4zM4 -1h2v1h-2z"/>
<path id="pp17_3066" d="M7 -13h7v1h-7zM1 -12h7v1h-7zM9 -12h2v1h-2zM7 -11h2v1h-2zM6 -10h2v1h-2zM6 -9h1v1h-1zM5 -8h1v4h-1zM6 -4h1v1h-1zM6 -3h3v1h-3zM8 -2h4v1h-4z"/>
<path id="pp17_8aac" d="M2 -13h4v1h-4zM9 -13h1v2h-1zM13 -13h1v1h-1zM12 -12h2v1h-2zM1 -11h6v1h-6zM12 -11h1v1h-1zM8 -10h7v1h-7zM2 -9h4v1h-4zM8 -9h1v3h-1zM14 -9h1v3h-1zM2 -7h4v1h-4zM8 -6h7v1h-7zM10 -5h1v1h-1zM12 -5h1v5h-1zM1 -4h5v1h-5zM9 -4h2v1h-2zM1 -3h1v2h-1zM5 -3h1v2h-1zM9 -3h1v2h-1zM15 -2h1v2h-1zM1 -1h5v1h-5zM7 -1h3v1h-3zM1 0h1v1h-1zM7 0h2v1h-2zM12 0h3v1h-3z"/>
<path id="pp17_660e" d="M2 -13h5v1h-5zM9 -13h6v1h-6zM2 -12h1v4h-1zM6 -12h1v4h-1zM9 -12h1v3h-1zM14 -12h1v3h-1zM9 -9h6v1h-6zM2 -8h5v1h-5zM9 -8h1v2h-1zM14 -8h1v2h-1zM2 -7h1v3h-1zM6 -7h1v3h-1zM9 -6h6v1h-6zM9 -5h1v2h-1zM14 -5h1v5h-1zM2 -4h5v1h-5zM2 -3h1v1h-1zM8 -3h1v2h-1zM7 -1h1v2h-1zM11 -1h1v1h-1zM11 0h4v1h-4z"/>
<path id="pp16_2460" d="M5 -13h6v1h-6zM3 -12h3v1h-3zM11 -12h2v1h-2zM2 -11h2v1h-2zM7 -11h2v1h-2zM13 -11h1v1h-1zM2 -10h1v1h-1zM6 -10h3v1h-3zM14 -10h1v2h-1zM1 -9h2v1h-2zM8 -9h1v8h-1zM1 -8h1v4h-1zM15 -8h1v4h-1zM2 -4h1v2h-1zM14 -4h1v2h-1zM3 -2h1v1h-1zM13 -2h1v1h-1zM4 -1h2v1h-2zM11 -1h2v1h-2zM6 0h5v1h-5z"/>
<path id="pp17_30d2" d="M2 -13h1v5h-1zM9 -10h3v1h-3zM6 -9h4v1h-4zM2 -8h5v1h-5zM2 -7h2v1h-2zM2 -6h1v5h-1zM11 -2h2v1h-2zM3 -1h9v1h-9z"/>
<path id="pp17_30c8" d="M3 -13h1v5h-1zM3 -8h3v1h-3zM3 -7h1v7h-1zM5 -7h3v1h-3zM7 -6h3v1h-3zM9 -5h1v1h-1z"/>
<path id="pp17_80da" d="M2 -13h4v1h-4zM7 -13h9v1h-9zM2 -12h1v3h-1zM5 -12h1v3h-1zM11 -12h1v2h-1zM10 -10h2v1h-2zM2 -9h4v1h-4zM9 -9h3v1h-3zM2 -8h1v2h-1zM5 -8h1v2h-1zM8 -8h2v1h-2zM11 -8h1v7h-1zM13 -8h2v1h-2zM7 -7h2v1h-2zM14 -7h2v1h-2zM2 -6h4v1h-4zM7 -6h1v1h-1zM15 -6h1v1h-1zM2 -5h1v4h-1zM5 -5h1v6h-1zM1 -1h2v1h-2zM1 0h1v1h-1zM7 0h9v1h-9zM4 1h2v1h-2z"/>
<path id="pp17_4f5c" d="M8 -14h2v2h-2zM4 -13h1v1h-1zM3 -12h2v1h-2zM8 -12h1v1h-1zM3 -11h1v2h-1zM7 -11h9v1h-9zM7 -10h2v1h-2zM10 -10h1v2h-1zM2 -9h2v2h-2zM6 -9h2v1h-2zM5 -8h2v2h-2zM10 -8h5v1h-5zM1 -7h1v2h-1zM3 -7h1v8h-1zM10 -7h1v3h-1zM10 -4h5v1h-5zM10 -3h1v4h-1z"/>
<path id="pp17_6210" d="M8 -14h1v2h-1zM12 -14h1v1h-1zM12 -13h2v1h-2zM8 -12h2v1h-2zM13 -12h1v1h-1zM2 -11h14v1h-14zM2 -10h1v2h-1zM9 -10h1v3h-1zM14 -9h1v1h-1zM2 -8h5v1h-5zM13 -8h1v1h-1zM2 -7h1v4h-1zM6 -7h1v4h-1zM9 -7h2v1h-2zM12 -7h2v1h-2zM10 -6h1v1h-1zM12 -6h1v1h-1zM10 -5h3v1h-3zM10 -4h2v1h-2zM1 -3h2v1h-2zM4 -3h3v1h-3zM9 -3h4v1h-4zM15 -3h1v1h-1zM1 -2h1v2h-1zM8 -2h2v1h-2zM12 -2h4v1h-4zM7 -1h2v1h-2zM14 -1h2v1h-2z"/>
<path id="pp17_3078" d="M6 -10h2v1h-2zM5 -9h4v1h-4zM4 -8h2v1h-2zM8 -8h2v1h-2zM2 -7h3v1h-3zM9 -7h2v1h-2zM1 -6h3v1h-3zM10 -6h3v1h-3zM11 -5h3v1h-3zM13 -4h3v1h-3z"/>
<path id="pp17_63d0" d="M3 -14h1v3h-1zM7 -14h8v1h-8zM7 -13h1v2h-1zM14 -13h1v2h-1zM1 -11h5v1h-5zM7 -11h8v1h-8zM3 -10h1v3h-1zM7 -10h1v1h-1zM14 -10h1v1h-1zM7 -9h8v1h-8zM3 -7h3v1h-3zM7 -7h9v1h-9zM1 -6h3v1h-3zM11 -6h1v2h-1zM3 -5h1v5h-1zM7 -5h1v2h-1zM11 -4h4v1h-4zM7 -3h2v1h-2zM11 -3h1v2h-1zM6 -2h4v1h-4zM6 -1h1v2h-1zM9 -1h3v1h-3zM1 0h3v1h-3zM11 0h5v1h-5z"/>
<path id="pp17_4f9b" d="M4 -15h2v1h-2zM8 -15h1v4h-1zM12 -15h1v4h-1zM4 -14h1v1h-1zM3 -13h2v2h-2zM3 -11h1v1h-1zM6 -11h10v1h-10zM2 -10h2v2h-2zM8 -10h1v4h-1zM12 -10h1v4h-1zM1 -8h3v1h-3zM1 -7h1v1h-1zM3 -7h1v7h-1zM5 -6h11v1h-11zM12 -5h1v1h-1zM8 -4h1v1h-1zM12 -4h2v1h-2zM7 -3h2v1h-2zM13 -3h2v1h-2zM6 -2h2v1h-2zM14 -2h2v1h-2zM6 -1h1v1h-1z"/>
<path id="pp17_3092" d="M6 -14h1v2h-1zM5 -12h2v1h-2zM9 -12h1v1h-1zM2 -11h8v1h-8zM4 -10h2v1h-2zM4 -9h1v1h-1zM6 -9h2v1h-2zM3 -8h3v1h-3zM7 -8h2v1h-2zM12 -8h1v1h-1zM3 -7h1v1h-1zM8 -7h1v1h-1zM10 -7h3v1h-3zM2 -6h1v1h-1zM8 -6h2v1h-2zM1 -5h2v1h-2zM6 -5h4v1h-4zM5 -4h1v1h-1zM8 -4h2v1h-2zM4 -3h1v2h-1zM4 -1h2v1h-2zM12 -1h1v1h-1zM6 0h6v1h-6z"/>
<path id="pp17_793a" d="M3 -13h11v1h-11zM1 -9h15v1h-15zM8 -8h1v7h-1zM4 -6h2v1h-2zM12 -6h1v1h-1zM3 -5h2v1h-2zM12 -5h2v1h-2zM2 -4h2v1h-2zM13 -4h2v1h-2zM1 -3h2v1h-2zM14 -3h2v1h-2zM5 -1h4v1h-4z"/>
<path id="pp16_2461" d="M6 -14h5v1h-5zM4 -13h2v1h-2zM11 -13h2v1h-2zM3 -12h2v1h-2zM7 -12h3v1h-3zM12 -12h2v1h-2zM2 -11h2v1h-2zM6 -11h1v1h-1zM10 -11h2v1h-2zM13 -11h2v1h-2zM2 -10h1v1h-1zM5 -10h2v1h-2zM11 -10h1v2h-1zM14 -10h1v1h-1zM1 -9h1v6h-1zM5 -9h1v1h-1zM15 -9h1v6h-1zM10 -8h2v1h-2zM9 -7h2v1h-2zM8 -6h2v1h-2zM7 -5h1v1h-1zM6 -4h1v1h-1zM2 -3h1v1h-1zM5 -3h2v1h-2zM14 -3h1v1h-1zM2 -2h2v1h-2zM5 -2h7v1h-7zM13 -2h2v1h-2zM3 -1h2v1h-2zM12 -1h2v1h-2zM4 0h2v1h-2zM11 0h2v1h-2zM6 1h5v1h-5z"/>
<path id="pp17_95a2" d="M2 -13h6v2h-6zM9 -13h6v2h-6zM2 -11h1v1h-1zM7 -11h1v1h-1zM9 -11h1v1h-1zM14 -11h1v1h-1zM2 -10h6v1h-6zM9 -10h6v1h-6zM2 -9h1v10h-1zM10 -9h1v1h-1zM14 -9h1v9h-1zM6 -8h2v1h-2zM9 -8h2v1h-2zM4 -7h9v1h-9zM8 -6h1v2h-1zM4 -4h9v1h-9zM8 -3h1v1h-1zM7 -2h1v1h-1zM9 -2h3v1h-3zM5 -1h2v1h-2zM11 -1h1v1h-1zM4 0h1v1h-1zM13 0h2v1h-2z"/>
<path id="pp17_5fc3" d="M5 -14h2v1h-2zM7 -13h2v1h-2zM9 -12h1v1h-1zM5 -11h1v10h-1zM2 -9h2v1h-2zM11 -9h2v1h-2zM2 -8h1v3h-1zM12 -8h1v1h-1zM12 -7h2v1h-2zM13 -6h1v1h-1zM1 -5h2v1h-2zM11 -5h1v4h-1zM13 -5h2v1h-2zM1 -4h1v2h-1zM14 -4h1v1h-1zM6 -1h6v1h-6z"/>
<path id="pp17_3059" d="M8 -13h1v2h-1zM1 -11h13v1h-13zM8 -10h1v1h-1zM6 -9h3v1h-3zM5 -8h1v1h-1zM8 -8h1v4h-1zM4 -7h2v1h-2zM4 -6h1v1h-1zM4 -5h2v1h-2zM5 -4h4v1h-4zM8 -3h1v1h-1zM7 -2h1v1h-1zM5 -1h2v1h-2zM5 0h1v1h-1z"/>
<path id="pp16_2465" d="M6 -14h5v1h-5zM4 -13h2v1h-2zM11 -13h2v1h-2zM2 -12h2v1h-2zM7 -12h3v1h-3zM12 -12h2v1h-2zM1 -11h2v1h-2zM6 -11h1v2h-1zM9 -11h2v1h-2zM14 -11h1v2h-1zM1 -10h1v1h-1zM10 -10h1v1h-1zM0 -9h1v5h-1zM5 -9h1v2h-1zM15 -9h1v5h-1zM7 -8h3v1h-3zM5 -7h2v1h-2zM10 -7h1v1h-1zM5 -6h1v3h-1zM11 -6h1v3h-1zM1 -4h1v1h-1zM14 -4h1v1h-1zM1 -3h2v1h-2zM6 -3h1v1h-1zM10 -3h1v1h-1zM13 -3h2v1h-2zM2 -2h2v1h-2zM7 -2h3v1h-3zM12 -2h2v1h-2zM3 -1h2v1h-2zM11 -1h2v1h-2zM5 0h6v1h-6z"/>
<path id="pp16_2466" d="M6 -14h5v1h-5zM4 -13h2v1h-2zM11 -13h2v1h-2zM3 -12h1v1h-1zM13 -12h1v1h-1zM2 -11h1v2h-1zM5 -11h7v1h-7zM14 -11h1v2h-1zM10 -10h2v1h-2zM1 -9h1v5h-1zM10 -9h1v1h-1zM15 -9h1v5h-1zM9 -8h2v1h-2zM9 -7h1v1h-1zM8 -6h2v1h-2zM8 -5h1v2h-1zM2 -4h1v2h-1zM14 -4h1v2h-1zM7 -3h2v1h-2zM3 -2h1v1h-1zM7 -2h1v1h-1zM13 -2h1v1h-1zM4 -1h2v1h-2zM11 -1h2v1h-2zM6 0h5v1h-5z"/>
</defs>
<g class="bn">
<path d="M61.5 52V107H909A5 5 0 0 0 914 102V42A5 5 0 1 0 904 42V47"/>
<path d="M909 47H56.5A5 5 0 0 0 51.5 52V112A5 5 0 0 0 61.5 112V107"/>
<path d="M51.5 52A5 5 0 0 0 61.5 52A2.5 2.5 0 0 0 56.5 52V57"/>
<path d="M904 42A2.5 2.5 0 0 0 909 42V47M914 42A5 5 0 0 1 909 47"/>
</g>
<g class="ln">
<rect x="132.75" y="181" width="729.25" height="346.7" rx="58" ry="58"/>
<rect x="400.5" y="156" width="201.9" height="52.5" rx="8.75" ry="8.75"/>
<rect x="228.5" y="247.5" width="161" height="46.5" rx="7.75" ry="7.75"/>
<rect x="564.5" y="249" width="190.35" height="40.5" rx="6.75" ry="6.75"/>
<rect x="255" y="455.5" width="536.5" height="51" rx="8.5" ry="8.5"/>
<rect x="410" y="605" width="190.6" height="54.5" rx="9.08333" ry="9.08333"/>
<path d="M487.5 534.5H524.5V582.5H543.5L506 598.5L468.5 582.5H487.5Z"/>
</g>
<g>
<path d="M515.00 264.50L431.00 264.50" stroke="#000" stroke-width="1" fill="none"/>
<path d="M423.50 264.50L431.50 260.50L431.50 268.50Z" fill="#000"/>
<path d="M302.50 316.00L302.50 422.50" stroke="#000" stroke-width="1" fill="none"/>
<path d="M302.50 430.00L298.50 422.00L306.50 422.00Z" fill="#000"/>
<path d="M352.20 419.60L496.98 316.84" stroke="#000" stroke-width="1" fill="none"/>
<path d="M503.10 312.50L498.89 320.39L494.26 313.87Z" fill="#000"/>
<path d="M603.50 313.00L603.50 434.50" stroke="#000" stroke-width="1" fill="none"/>
<path d="M603.50 442.00L599.50 434.00L607.50 434.00Z" fill="#000"/>
<path d="M614.50 440.00L614.50 319.50" stroke="#000" stroke-width="1" fill="none"/>
<path d="M614.50 312.00L618.50 320.00L610.50 320.00Z" fill="#000"/>
<path d="M719.50 434.50L719.50 314.50" stroke="#000" stroke-width="3" fill="none"/>
<path d="M719.50 306.00L724.00 315.00L715.00 315.00Z" fill="#000"/>
</g>
<g class="gl">
<use href="#gt27_751f" x="95" y="88"/>
<use href="#gt27_6b96" x="122" y="88"/>
<use href="#gt27_88dc" x="149" y="88"/>
<use href="#gt27_52a9" x="175" y="88"/>
<use href="#gt27_533b" x="202" y="88"/>
<use href="#gt27_7642" x="229" y="88"/>
<use href="#gt27_7814" x="255" y="88"/>
<use href="#gt27_7a76" x="282" y="88"/>
<use href="#gt27_ff08" x="309" y="88"/>
<use href="#gt27_80da" x="335" y="88"/>
<use href="#gt27_306e" x="362" y="88"/>
<use href="#gt27_4f5c" x="389" y="88"/>
<use href="#gt27_6210" x="415" y="88"/>
<use href="#gt27_30fb" x="442" y="88"/>
<use href="#gt27_5229" x="469" y="88"/>
<use href="#gt27_7528" x="495" y="88"/>
<use href="#gt27_ff09" x="522" y="88"/>
<use href="#gt27_306b" x="549" y="88"/>
<use href="#gt27_304a" x="575" y="88"/>
<use href="#gt27_3051" x="602" y="88"/>
<use href="#gt27_308b" x="629" y="88"/>
<use href="#gt27_63d0" x="655" y="88"/>
<use href="#gt27_4f9b" x="682" y="88"/>
<use href="#gt27_306e" x="709" y="88"/>
<use href="#gt27_624b" x="735" y="88"/>
<use href="#gt27_7d9a" x="762" y="88"/>
<use href="#gt27_304d" x="789" y="88"/>
<use href="#gt27_ff08" x="815" y="88"/>
<use href="#gt27_6848" x="842" y="88"/>
<use href="#gt27_ff09" x="869" y="88"/>
<use href="#pb22_63d0" x="454" y="192"/>
<use href="#pb22_4f9b" x="478" y="192"/>
<use href="#pb22_6a5f" x="502" y="192"/>
<use href="#pb22_95a2" x="526" y="192"/>
<use href="#pb22_63d0" x="488" y="490"/>
<use href="#pb22_4f9b" x="512" y="490"/>
<use href="#pb22_8005" x="536" y="490"/>
<use href="#pb22_7814" x="462" y="641"/>
<use href="#pb22_7a76" x="486" y="641"/>
<use href="#pb22_6a5f" x="510" y="641"/>
<use href="#pb22_95a2" x="534" y="641"/>
<use href="#pp20_8aac" x="278" y="280"/>
<use href="#pp20_660e" x="299" y="280"/>
<use href="#pp20_8005" x="320" y="280"/>
<use href="#pp20_4e3b" x="628" y="278"/>
<use href="#pp20_6cbb" x="649" y="278"/>
<use href="#pp20_533b" x="670" y="278"/>
<use href="#pp17_ff08" x="439" y="287"/>
<use href="#pp16_2462" x="447" y="287"/>
<use href="#pp17_9023" x="463" y="287"/>
<use href="#pp17_7d61" x="479" y="287"/>
<use href="#pp17_ff09" x="494" y="287"/>
<use href="#pp17_ff08" x="362" y="349"/>
<use href="#pp16_2464" x="371" y="349"/>
<use href="#pp17_540c" x="387" y="349"/>
<use href="#pp17_610f" x="403" y="349"/>
<use href="#pp17_ff09" x="418" y="349"/>
<use href="#pp17_ff08" x="169" y="359"/>
<use href="#pp16_2463" x="177" y="359"/>
<use href="#pp17_7814" x="194" y="359"/>
<use href="#pp17_7a76" x="210" y="359"/>
<use href="#pp17_306e" x="226" y="359"/>
<use href="#pp17_5185" x="241" y="359"/>
<use href="#pp17_5bb9" x="257" y="359"/>
<use href="#pp17_7b49" x="169" y="378"/>
<use href="#pp17_306b" x="185" y="378"/>
<use href="#pp17_3064" x="199" y="378"/>
<use href="#pp17_3044" x="214" y="378"/>
<use href="#pp17_3066" x="229" y="378"/>
<use href="#pp17_8aac" x="243" y="378"/>
<use href="#pp17_660e" x="259" y="378"/>
<use href="#pp17_ff09" x="274" y="378"/>
<use href="#pp17_ff08" x="501" y="374"/>
<use href="#pp16_2460" x="509" y="374"/>
<use href="#pp17_30d2" x="524" y="374"/>
<use href="#pp17_30c8" x="535" y="374"/>
<use href="#pp17_80da" x="547" y="374"/>
<use href="#pp17_4f5c" x="563" y="374"/>
<use href="#pp17_6210" x="579" y="374"/>
<use href="#pp17_7814" x="510" y="393"/>
<use href="#pp17_7a76" x="526" y="393"/>
<use href="#pp17_3078" x="542" y="393"/>
<use href="#pp17_306e" x="558" y="393"/>
<use href="#pp17_63d0" x="573" y="393"/>
<use href="#pp17_4f9b" x="510" y="412"/>
<use href="#pp17_3092" x="526" y="412"/>
<use href="#pp17_63d0" x="540" y="412"/>
<use href="#pp17_793a" x="556" y="412"/>
<use href="#pp17_ff09" x="571" y="412"/>
<use href="#pp17_ff08" x="625" y="363"/>
<use href="#pp16_2461" x="633" y="363"/>
<use href="#pp17_95a2" x="649" y="363"/>
<use href="#pp17_5fc3" x="665" y="363"/>
<use href="#pp17_3092" x="681" y="363"/>
<use href="#pp17_793a" x="624" y="382"/>
<use href="#pp17_3059" x="640" y="382"/>
<use href="#pp17_ff09" x="654" y="382"/>
<use href="#pp17_ff08" x="734" y="365"/>
<use href="#pp16_2465" x="742" y="365"/>
<use href="#pp17_63d0" x="758" y="365"/>
<use href="#pp17_4f9b" x="774" y="365"/>
<use href="#pp17_ff09" x="789" y="365"/>
<use href="#pp17_ff08" x="536" y="565"/>
<use href="#pp16_2466" x="544" y="565"/>
<use href="#pp17_63d0" x="560" y="565"/>
<use href="#pp17_4f9b" x="576" y="565"/>
<use href="#pp17_ff09" x="591" y="565"/>
</g>
</svg>
<p class="tx" style="left:95.2px;top:64.5px;width:800.1px;height:26.7px;font-size:26.67px">生殖補助医療研究（胚の作成・利用）における提供の手続き（案）</p>
<p class="tx b" style="left:453.2px;top:170.9px;width:96.0px;height:24.0px;font-size:24px">提供機関</p>
<p class="tx b" style="left:487.0px;top:468.9px;width:72.0px;height:24.0px;font-size:24px">提供者</p>
<p class="tx b" style="left:461.1px;top:619.9px;width:96.0px;height:24.0px;font-size:24px">研究機関</p>
<p class="tx" style="left:277.0px;top:261.5px;width:63.0px;height:21.0px;font-size:21px">説明者</p>
<p class="tx" style="left:627.5px;top:259.5px;width:63.0px;height:21.0px;font-size:21px">主治医</p>
<p class="tx" style="left:439.0px;top:272.9px;width:65.6px;height:16.0px;font-size:16px">（③連絡）</p>
<p class="tx" style="left:362.8px;top:334.9px;width:65.6px;height:16.0px;font-size:16px">（⑤同意）</p>
<p class="tx" style="left:169.3px;top:344.9px;width:104.3px;height:16.0px;font-size:16px">（④研究の内容</p>
<p class="tx" style="left:169.3px;top:363.9px;width:115.2px;height:16.0px;font-size:16px">等について説明）</p>
<p class="tx" style="left:501.4px;top:359.9px;width:94.0px;height:16.0px;font-size:16px">（①ヒト胚作成</p>
<p class="tx" style="left:510.6px;top:378.9px;width:79.2px;height:16.0px;font-size:16px">研究への提</p>
<p class="tx" style="left:510.4px;top:397.9px;width:70.6px;height:16.0px;font-size:16px">供を提示）</p>
<p class="tx" style="left:625.2px;top:348.9px;width:70.6px;height:16.0px;font-size:16px">（②関心を</p>
<p class="tx" style="left:624.8px;top:367.9px;width:39.2px;height:16.0px;font-size:16px">示す）</p>
<p class="tx" style="left:734.2px;top:350.9px;width:65.6px;height:16.0px;font-size:16px">（⑥提供）</p>
<p class="tx" style="left:536.0px;top:550.9px;width:65.6px;height:16.0px;font-size:16px">（⑦提供）</p>
</body>
</html>
